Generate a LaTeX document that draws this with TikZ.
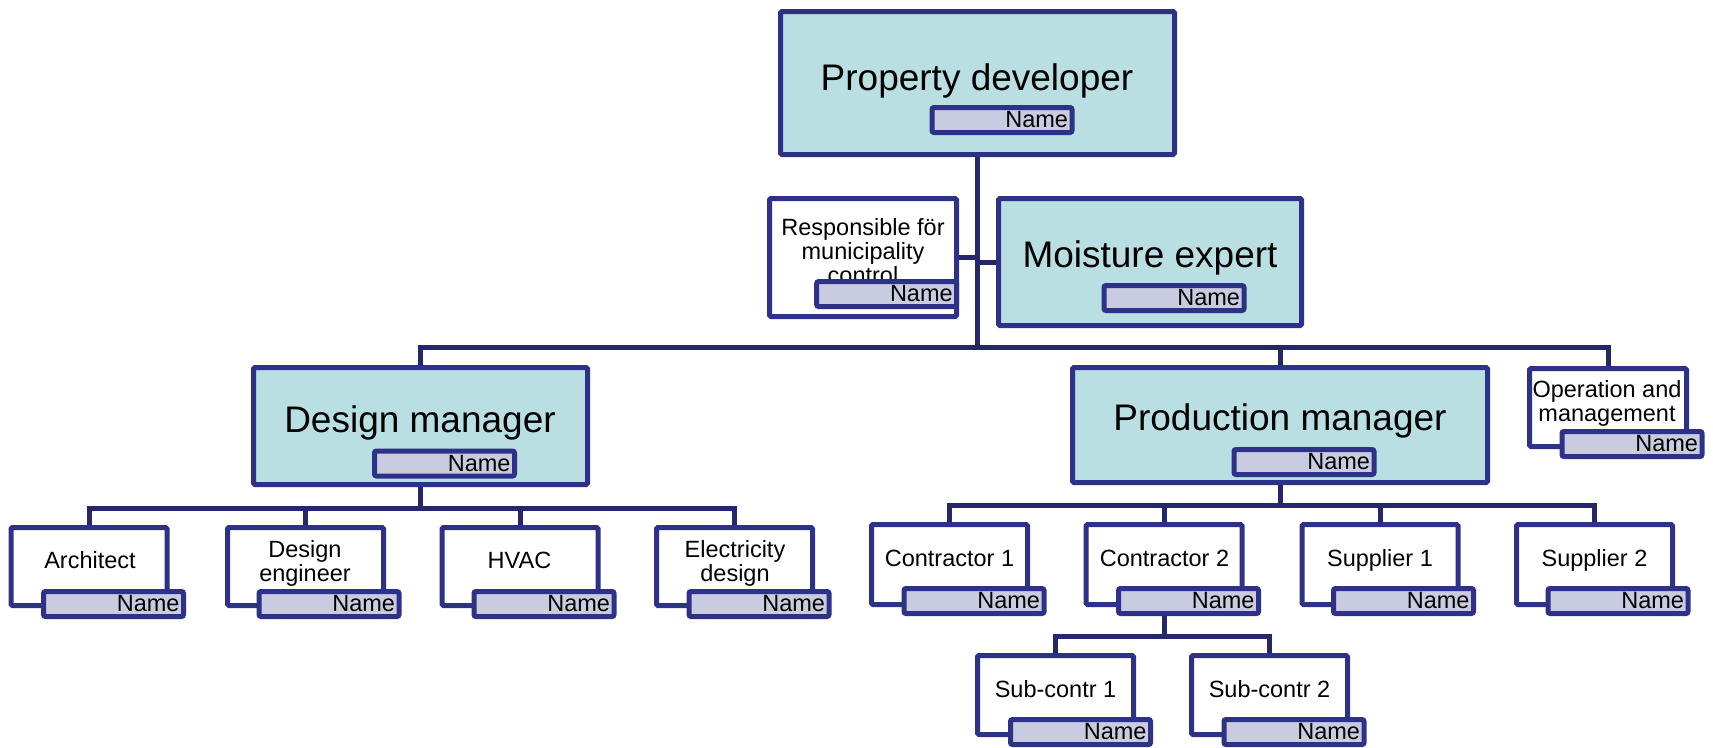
\documentclass[tikz,border=0pt]{standalone}
\usepackage{fontspec}
\setmainfont{Liberation Sans}
\usetikzlibrary{calc}
\definecolor{navy}{RGB}{46,49,136}
\definecolor{linenavy}{RGB}{38,38,106}
\definecolor{tealfill}{RGB}{185,223,227}
\definecolor{lavfill}{RGB}{201,203,224}
\tikzset{
  mainbox/.style={draw=navy, fill=tealfill, line width=5pt, rounded corners=1.5pt, inner sep=0pt},
  smallbox/.style={draw=navy, fill=white, line width=5pt, rounded corners=1.5pt, inner sep=0pt, minimum width=156pt, minimum height=79pt},
  namebox/.style={draw=navy, fill=lavfill, line width=5pt, rounded corners=2pt, inner xsep=4pt, inner ysep=0pt,
    minimum height=25pt, text width=132pt, align=right, font=\fontsize{23.5}{24}\selectfont},
  bigtext/.style={anchor=base, inner sep=0pt, font=\fontsize{37}{40}\selectfont},
  smalltext/.style={anchor=base, inner sep=0pt, align=center, font=\fontsize{23.5}{24}\selectfont},
  conn/.style={draw=linenavy, line width=5pt}
}
\begin{document}
\begin{tikzpicture}[x=1pt,y=-1pt]
\useasboundingbox (0,0) rectangle (1713,747);
% main boxes
\node[mainbox, minimum width=394pt, minimum height=143pt] (pd) at (977.5,83) {};
\node[smallbox, minimum width=187pt, minimum height=118pt] (resp) at (863,257.5) {};
\node[mainbox, minimum width=303pt, minimum height=127pt] (moist) at (1150,262) {};
\node[mainbox, minimum width=334pt, minimum height=117pt] (dm) at (420.5,426) {};
\node[mainbox, minimum width=415pt, minimum height=115pt] (pm) at (1280,425) {};
\node[smallbox, minimum width=157pt, minimum height=78pt] (op) at (1608,407.5) {};
% design children
\node[smallbox, minimum height=78pt] (arch) at (89,566.5) {};
\node[smallbox, minimum height=78pt] (deng) at (305.5,566.5) {};
\node[smallbox, minimum height=78pt] (hvac) at (520,566.5) {};
\node[smallbox, minimum height=78pt] (elec) at (734.5,566.5) {};
% production children
\node[smallbox, minimum height=80pt] (c1) at (949.5,564.5) {};
\node[smallbox, minimum height=80pt] (c2) at (1164,564.5) {};
\node[smallbox, minimum height=80pt] (s1) at (1380,564.5) {};
\node[smallbox, minimum height=80pt] (s2) at (1594.5,564.5) {};
% sub contractors
\node[smallbox] (sc1) at (1055.5,695) {};
\node[smallbox] (sc2) at (1269.5,695) {};

% connectors
\coordinate (bus) at (978,347);
\draw[conn] (pd.south) -- (pd.south |- bus) -| (dm.north);
\draw[conn] (pd.south |- bus) -| (pm.north);
\draw[conn] (pd.south |- bus) -| (op.north);
\draw[conn] (resp.east) -- (resp.east -| pd.south);
\draw[conn] (moist.west) -- (moist.west -| pd.south);
\foreach \c in {arch,deng,hvac,elec} {\draw[conn] (dm.south) -- ++(0,21) -| (\c.north);}
\foreach \c in {c1,c2,s1,s2} {\draw[conn] (pm.south) -- ++(0,20.5) -| (\c.north);}
\foreach \c in {sc1,sc2} {\draw[conn] (c2.south) -- ++(0,29.5) -| (\c.north);}

% texts
\node[bigtext] (pdt) at (977,90) {Property developer};
\node[bigtext] (moistt) at (1150,267) {Moisture expert};
\node[bigtext] (dmt) at (420,432) {Design manager};
\node[bigtext] (pmt) at (1280,430) {Production manager};
\node[smalltext] (respt) at (863,283) {Responsible för\\municipality\\control};
\node[smalltext] (archt) at (90,568) {Architect};
\node[smalltext] (dengt) at (305,581) {Design\\engineer};
\node[smalltext] (hvact) at (519.5,568) {HVAC};
\node[smalltext] (elect) at (735,581) {Electricity\\design};
\node[smalltext] (c1t) at (949.5,566) {Contractor 1};
\node[smalltext] (c2t) at (1164.5,566) {Contractor 2};
\node[smalltext] (s1t) at (1380,566) {Supplier 1};
\node[smalltext] (s2t) at (1594.5,566) {Supplier 2};
\node[smalltext] (opt) at (1607,421) {Operation and\\management};
\node[smalltext] (sc1t) at (1055.5,697) {Sub-contr 1};
\node[smalltext] (sc2t) at (1269.5,697) {Sub-contr 2};

% name boxes
\node[namebox] (pdn) at (1002,120) {Name};
\node[namebox] (respn) at (886.7,294) {Name};
\node[namebox] (moistn) at (1174,298) {Name};
\node[namebox] (dmn) at (444.5,463.5) {Name};
\node[namebox] (pmn) at (1304,462) {Name};
\node[namebox] (opn) at (1632,444) {Name};
\node[namebox] (archn) at (113.5,604) {Name};
\node[namebox] (dengn) at (329,604) {Name};
\node[namebox] (hvacn) at (544,604) {Name};
\node[namebox] (elecn) at (759,604) {Name};
\node[namebox] (c1n) at (974,601) {Name};
\node[namebox] (c2n) at (1188.5,601) {Name};
\node[namebox] (s1n) at (1403.5,601) {Name};
\node[namebox] (s2n) at (1618,601) {Name};
\node[namebox] (sc1n) at (1080.5,732) {Name};
\node[namebox] (sc2n) at (1294,732) {Name};
\end{tikzpicture}
\end{document}
